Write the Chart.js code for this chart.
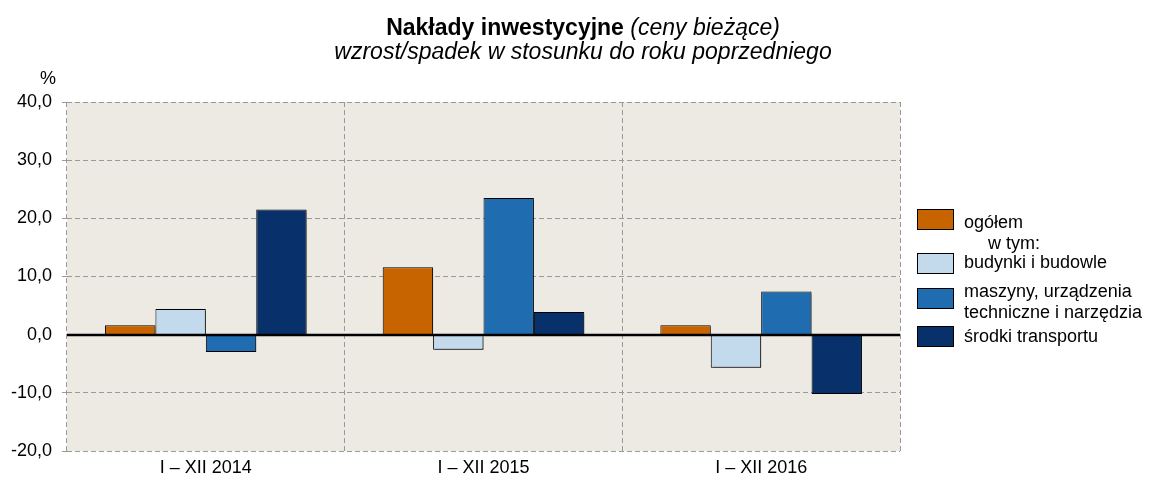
<!DOCTYPE html>
<html>
<head>
<meta charset="utf-8">
<script src="https://cdn.jsdelivr.net/npm/chart.js@4.4.1/dist/chart.umd.min.js"></script>
<style>
  html, body { margin: 0; padding: 0; background: #ffffff; }
  #wrap { width: 1153px; height: 478px; position: relative; }
</style>
</head>
<body>
<div id="wrap"><canvas id="c" width="1153" height="478"></canvas></div>
<script>
// ---- data ----
const categories = ['I – XII 2014', 'I – XII 2015', 'I – XII 2016'];
const ogolem    = [1.6, 11.6, 1.6];
const budynki   = [4.4, -2.6, -5.7];
const maszyny   = [-3.0, 23.5, 7.4];
const transport = [21.5, 3.9, -10.2];
const seriesNames = ['ogółem', 'budynki i budowle', 'maszyny, urządzenia\ntechniczne i narzędzia', 'środki transportu'];
const legendNote = 'w tym:';
const yMin = -20, yMax = 40, yStep = 10;
const titleBold = 'Nakłady inwestycyjne';
const titleItalic = ' (ceny bieżące)';
const subtitle = 'wzrost/spadek w stosunku do roku poprzedniego';
const yUnit = '%';

const colors = ['#C86400', '#C3D9EC', '#1F6DB0', '#08306B'];
const FONT = '"Liberation Sans", Arial, sans-serif';

const decorPlugin = {
  id: 'decor',
  beforeDraw(chart) {
    const { ctx, chartArea: a } = chart;
    ctx.save();
    ctx.fillStyle = '#ECEAE2';
    ctx.fillRect(a.left, a.top, a.right - a.left, a.bottom - a.top);
    ctx.restore();
  },
  beforeDatasetsDraw(chart) {
    const ctx = chart.ctx;
    ctx.save();
    ctx.shadowColor = 'rgba(0,0,0,0.35)';
    ctx.shadowOffsetX = 2;
    ctx.shadowOffsetY = 2;
    ctx.shadowBlur = 1;
  },
  afterDatasetsDraw(chart) {
    const ctx = chart.ctx;
    ctx.restore();
    const a = chart.chartArea;
    const y0 = Math.round(chart.scales.y.getPixelForValue(0));
    ctx.save();
    ctx.strokeStyle = '#000';
    ctx.lineWidth = 2.5;
    ctx.beginPath();
    ctx.moveTo(a.left, y0);
    ctx.lineTo(a.right, y0);
    ctx.stroke();
    ctx.restore();
  },
  afterDraw(chart) {
    const ctx = chart.ctx;
    ctx.save();
    ctx.fillStyle = '#000';
    ctx.textBaseline = 'alphabetic';
    // title line 1 (mixed styles)
    const cx = 583;
    ctx.font = 'bold 23px ' + FONT;
    const wb = ctx.measureText(titleBold).width;
    ctx.font = 'italic 23px ' + FONT;
    const wi = ctx.measureText(titleItalic).width;
    let x = cx - (wb + wi) / 2;
    ctx.textAlign = 'left';
    ctx.font = 'bold 23px ' + FONT;
    ctx.fillText(titleBold, x, 35);
    ctx.font = 'italic 23px ' + FONT;
    ctx.fillText(titleItalic, x + wb, 35);
    ctx.textAlign = 'center';
    ctx.fillText(subtitle, cx, 59);
    // unit
    ctx.font = '18px ' + FONT;
    ctx.fillText(yUnit, 48, 84);
    // legend
    const boxX = 917, boxW = 37, boxH = 21;
    const boxTops = [209, 253, 288, 326];
    const baselines = [[228], [268], [297, 318], [342]];
    ctx.textAlign = 'left';
    ctx.font = '18px ' + FONT;
    chart.data.datasets.forEach((ds, i) => {
      const top = boxTops[i];
      ctx.fillStyle = ds.backgroundColor;
      ctx.fillRect(boxX, top, boxW, boxH);
      ctx.strokeStyle = '#000';
      ctx.lineWidth = 1;
      ctx.strokeRect(boxX + 0.5, top + 0.5, boxW - 1, boxH - 1);
      ctx.fillStyle = '#000';
      ds.label.split('\n').forEach((ln, j) => ctx.fillText(ln, 964, baselines[i][j]));
    });
    ctx.fillText(legendNote, 988, 249);
    ctx.restore();
  }
};

const datasets = [ogolem, budynki, maszyny, transport].map((d, i) => ({
  label: seriesNames[i],
  data: d,
  backgroundColor: colors[i],
  borderColor: '#000',
  borderWidth: 1,
  categoryPercentage: 0.726,
  barPercentage: 1.0
}));

new Chart(document.getElementById('c'), {
  type: 'bar',
  data: { labels: categories, datasets },
  plugins: [decorPlugin],
  options: {
    responsive: false,
    animation: false,
    layout: { padding: { top: 102, right: 253, bottom: 0, left: 0 } },
    plugins: { legend: { display: false }, title: { display: false }, tooltip: { enabled: false } },
    scales: {
      x: {
        afterFit(s) { s.height = 27; },
        grid: { offset: true, color: '#999', lineWidth: 1, drawTicks: false },
        border: { display: false, dash: [5, 3] },
        ticks: { color: '#000', font: { family: FONT, size: 18 }, padding: 6 }
      },
      y: {
        min: yMin, max: yMax,
        afterFit(s) { s.width = 67; },
        grid: {
          color: (c) => (c.tick && c.tick.value === 0 ? 'rgba(0,0,0,0)' : '#999'),
          lineWidth: 1, drawTicks: true, tickLength: 5
        },
        border: { display: false, dash: [5, 3] },
        ticks: {
          stepSize: yStep, color: '#000', padding: 10,
          font: { family: FONT, size: 18 },
          callback: (v) => v.toFixed(1).replace('.', ',')
        }
      }
    }
  }
});
</script>
</body>
</html>
